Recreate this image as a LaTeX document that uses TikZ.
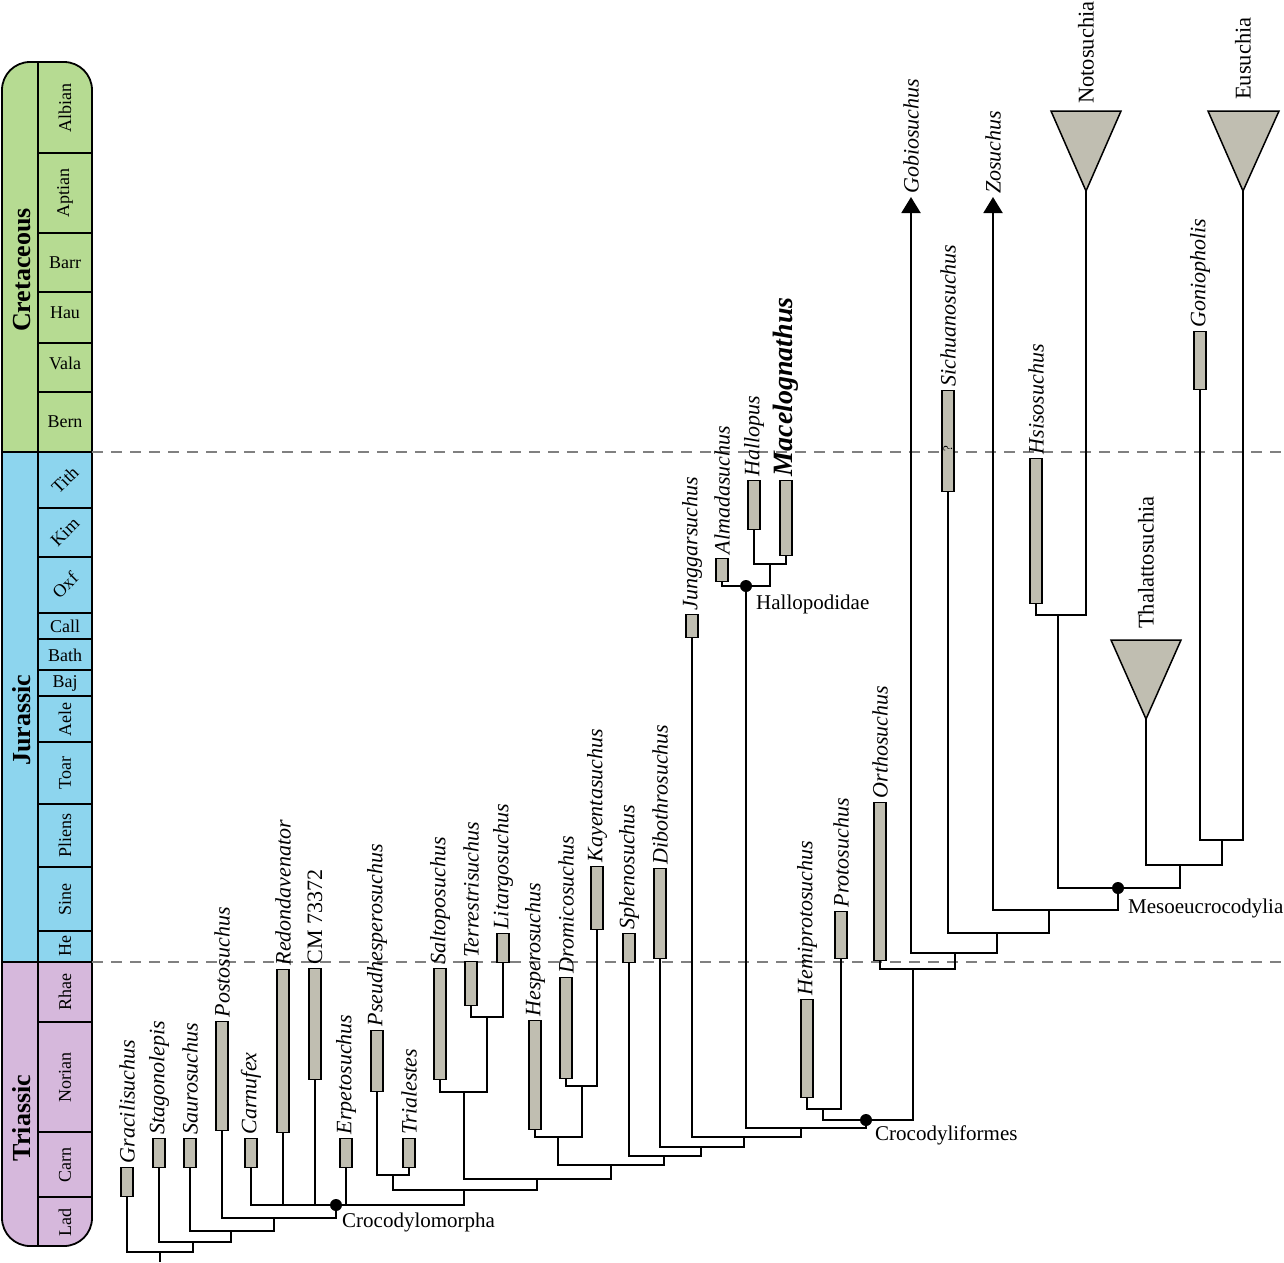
\documentclass[tikz,border=0pt]{standalone}
\usepackage{fontspec}
\setmainfont{Liberation Serif}
\usepackage{tikz}
\usetikzlibrary{arrows.meta}

\definecolor{cretgreen}{RGB}{182,219,146}
\definecolor{jurblue}{RGB}{141,213,238}
\definecolor{triapink}{RGB}{214,184,220}
\definecolor{barfill}{RGB}{192,190,177}

\begin{document}
\begin{tikzpicture}[x=1pt, y=-1pt,
	branchline/.style={line width=2pt},
	rangebar/.style={draw, line width=1.5pt, fill=barfill, minimum width=12pt, inner sep=0pt, anchor=south},
	taxon/.style={rotate=90, anchor=west, inner sep=3pt, font=\fontsize{22}{24}\selectfont\itshape},
	clade/.style={rotate=90, anchor=west, inner sep=0pt, font=\fontsize{22.5}{24}\selectfont},
	cladetri/.style={draw, line width=1.5pt, fill=barfill},
	cladename/.style={anchor=base west, inner sep=0pt, font=\fontsize{21}{24}\selectfont},
	nodedot/.style={circle, fill=black, minimum size=12pt, inner sep=0pt},
	boundary/.style={line width=1.8pt, color=black!50, dash pattern=on 11pt off 8pt},
	scaleline/.style={line width=1.8pt},
	stagename/.style={inner sep=0pt, font=\fontsize{18}{20}\selectfont},
	periodname/.style={rotate=90, inner sep=0pt, font=\fontsize{26}{28}\selectfont\bfseries},
	gobarrow/.style={{Triangle[width=19pt,length=16pt]}-}]

		\useasboundingbox (0,0) rectangle (1284,1262);

		% time scale
		\begin{scope}
			\clip [rounded corners=28pt] (2,62) rectangle (92,1246);
			\fill [cretgreen] (2,62) rectangle (92,452);
			\fill [jurblue] (2,452) rectangle (92,962);
			\fill [triapink] (2,962) rectangle (92,1246);
		\end{scope}
		\draw [scaleline, rounded corners=28pt] (2,62) rectangle (92,1246);
		\draw [scaleline] (38,62) -- (38,1246);
		\draw [scaleline] (2,452) -- (92,452);
		\draw [scaleline] (2,962) -- (92,962);
		\foreach \y in {153,233,292,343,392,508,557,613,639,670,696,742,804,867,931,1022,1132,1197}
			\draw [scaleline] (38,\y) -- (92,\y);

		\node [periodname] (cretaceous) at (22,270) {Cretaceous};
		\node [periodname] (jurassic) at (22,720) {Jurassic};
		\node [periodname] (triassic) at (22,1118) {Triassic};

		\node [stagename, rotate=90] (albian) at (65,108) {Albian};
		\node [stagename, rotate=90] (aptian) at (65,193) {Aptian};
		\node [stagename] (barr) at (65,263) {Barr};
		\node [stagename] (hau) at (65,313) {Hau};
		\node [stagename] (vala) at (65,363) {Vala};
		\node [stagename] (bern) at (65,422) {Bern};
		\node [stagename, rotate=45] (tith) at (65,480) {Tith};
		\node [stagename, rotate=45] (kim) at (65,532) {Kim};
		\node [stagename, rotate=45] (oxf) at (65,585) {Oxf};
		\node [stagename] (call) at (65,626) {Call};
		\node [stagename] (bath) at (65,655) {Bath};
		\node [stagename] (baj) at (65,683) {Baj};
		\node [stagename, rotate=90] (aele) at (65,719) {Aele};
		\node [stagename, rotate=90] (toar) at (65,773) {Toar};
		\node [stagename, rotate=90] (pliens) at (65,835) {Pliens};
		\node [stagename, rotate=90] (sine) at (65,899) {Sine};
		\node [stagename, rotate=90] (he) at (65,946) {He};
		\node [stagename, rotate=90] (rhae) at (65,992) {Rhae};
		\node [stagename, rotate=90] (norian) at (65,1077) {Norian};
		\node [stagename, rotate=90] (carn) at (65,1165) {Carn};
		\node [stagename, rotate=90] (lad) at (65,1222) {Lad};

		\draw [boundary] (92,452) -- (1284,452);
		\draw [boundary] (92,962) -- (1284,962);

		% inner nodes
		\coordinate (root) at (160,1262);
		\coordinate (n1) at (160,1252);
		\coordinate (n2) at (193,1242);
		\coordinate (n3) at (231,1231);
		\coordinate (n4) at (274,1218);
		\coordinate (cmorph) at (336,1205);
		\coordinate (nA) at (464,1190);
		\coordinate (nP) at (393,1175);
		\coordinate (nB) at (537,1179);
		\coordinate (nS) at (464,1092);
		\coordinate (nTL) at (487,1017);
		\coordinate (nC) at (611,1165);
		\coordinate (nH) at (558,1137);
		\coordinate (nDK) at (582,1086);
		\coordinate (nD) at (664,1156);
		\coordinate (nE) at (701,1147);
		\coordinate (nF) at (744,1137);
		\coordinate (nG) at (801,1128);
		\coordinate (hallop) at (746,586);
		\coordinate (nHM) at (770,564);
		\coordinate (cform) at (866,1120);
		\coordinate (nHP) at (823,1109);
		\coordinate (nO) at (913,969);
		\coordinate (nQ) at (955,953);
		\coordinate (nR) at (997,933);
		\coordinate (nT) at (1049,910);
		\coordinate (meso) at (1118,888);
		\coordinate (nU) at (1058,615);
		\coordinate (nV) at (1180,865);
		\coordinate (nW) at (1222,840);
		\coordinate (gobtip) at (911,197);
		\coordinate (zostip) at (993,197);

		% branches
		\draw [branchline] (root) -- (n1);
		\draw [branchline] (n2) |- (n1);
		\draw [branchline] (n3) |- (n2);
		\draw [branchline] (n4) |- (n3);
		\draw [branchline] (cmorph) |- (n4);
		\draw [branchline] (nA) |- (cmorph);
		\draw [branchline] (nP) |- (nA);
		\draw [branchline] (nB) |- (nA);
		\draw [branchline] (nS) |- (nB);
		\draw [branchline] (nTL) |- (nS);
		\draw [branchline] (nC) |- (nB);
		\draw [branchline] (nH) |- (nC);
		\draw [branchline] (nDK) |- (nH);
		\draw [branchline] (nD) |- (nC);
		\draw [branchline] (nE) |- (nD);
		\draw [branchline] (nF) |- (nE);
		\draw [branchline] (nG) |- (nF);
		\draw [branchline] (hallop) |- (nG);
		\draw [branchline] (nHM) |- (hallop);
		\draw [branchline] (cform) |- (nG);
		\draw [branchline] (nHP) |- (cform);
		\draw [branchline] (nO) |- (cform);
		\draw [branchline] (nQ) |- (nO);
		\draw [branchline, gobarrow] (gobtip) |- (nQ);
		\draw [branchline] (nR) |- (nQ);
		\draw [branchline] (nT) |- (nR);
		\draw [branchline, gobarrow] (zostip) |- (nT);
		\draw [branchline] (meso) |- (nT);
		\draw [branchline] (nU) |- (meso);
		\draw [branchline] (nV) |- (meso);
		\draw [branchline] (nW) |- (nV);

		% clade triangles
		\draw [cladetri] (1051,111) -- (1121,111) -- (1086,191) coordinate (noto) -- cycle;
		\draw [cladetri] (1208,111) -- (1279,111) -- (1243,191) coordinate (eusu) -- cycle;
		\draw [cladetri] (1111,640) -- (1181,640) -- (1146,719) coordinate (thal) -- cycle;
		\draw [branchline] (noto) |- (nU);
		\draw [branchline] (eusu) |- (nW);
		\draw [branchline] (thal) |- (nV);

		% taxa
		\node [rangebar, minimum height=29] (graci) at (127,1197) {};
		\node [rangebar, minimum height=29] (stag) at (159,1168) {};
		\node [rangebar, minimum height=29] (sauro) at (190,1168) {};
		\node [rangebar, minimum height=109] (posto) at (222,1131) {};
		\node [rangebar, minimum height=29] (carnu) at (251,1168) {};
		\node [rangebar, minimum height=163] (redo) at (283,1133) {};
		\node [rangebar, minimum height=111] (cmsp) at (315,1080) {};
		\node [rangebar, minimum height=29] (erpe) at (346,1168) {};
		\node [rangebar, minimum height=61] (pseu) at (377,1092) {};
		\node [rangebar, minimum height=29] (tria) at (409,1168) {};
		\node [rangebar, minimum height=111] (salt) at (440,1080) {};
		\node [rangebar, minimum height=44] (terr) at (471,1006) {};
		\node [rangebar, minimum height=29] (lita) at (503,963) {};
		\node [rangebar, minimum height=109] (hesp) at (535,1130) {};
		\node [rangebar, minimum height=101] (drom) at (566,1079) {};
		\node [rangebar, minimum height=63] (kaye) at (597,930) {};
		\node [rangebar, minimum height=29] (sphe) at (629,963) {};
		\node [rangebar, minimum height=90] (dibo) at (660,959) {};
		\node [rangebar, minimum height=23] (jung) at (692,638) {};
		\node [rangebar, minimum height=23] (alma) at (722,582) {};
		\node [rangebar, minimum height=49] (hallo) at (754,530) {};
		\node [rangebar, minimum height=75] (mace) at (786,556) {};
		\node [rangebar, minimum height=98] (hemi) at (807,1098) {};
		\node [rangebar, minimum height=47] (prot) at (841,959) {};
		\node [rangebar, minimum height=158] (orth) at (880,961) {};
		\node [rangebar, minimum height=101] (sich) at (948,492) {};
		\node [rangebar, minimum height=145] (hsis) at (1036,604) {};
		\node [rangebar, minimum height=58] (goni) at (1200,390) {};
		\node [rotate=90, inner sep=0pt, font=\fontsize{13}{14}\selectfont] (sichq) at (948,449) {?};

		\draw [branchline] (graci.south) |- (n1);
		\draw [branchline] (stag.south) |- (n2);
		\draw [branchline] (sauro.south) |- (n3);
		\draw [branchline] (posto.south) |- (n4);
		\draw [branchline] (carnu.south) |- (cmorph);
		\draw [branchline] (redo.south) |- (cmorph);
		\draw [branchline] (cmsp.south) |- (cmorph);
		\draw [branchline] (erpe.south) |- (cmorph);
		\draw [branchline] (pseu.south) |- (nP);
		\draw [branchline] (tria.south) |- (nP);
		\draw [branchline] (salt.south) |- (nS);
		\draw [branchline] (terr.south) |- (nTL);
		\draw [branchline] (lita.south) |- (nTL);
		\draw [branchline] (hesp.south) |- (nH);
		\draw [branchline] (drom.south) |- (nDK);
		\draw [branchline] (kaye.south) |- (nDK);
		\draw [branchline] (sphe.south) |- (nD);
		\draw [branchline] (dibo.south) |- (nE);
		\draw [branchline] (jung.south) |- (nF);
		\draw [branchline] (alma.south) |- (hallop);
		\draw [branchline] (hallo.south) |- (nHM);
		\draw [branchline] (mace.south) |- (nHM);
		\draw [branchline] (hemi.south) |- (nHP);
		\draw [branchline] (prot.south) |- (nHP);
		\draw [branchline] (orth.south) |- (nO);
		\draw [branchline] (sich.south) |- (nR);
		\draw [branchline] (hsis.south) |- (nU);
		\draw [branchline] (goni.south) |- (nW);

		\node [nodedot] (cmorphdot) at (cmorph) {};
		\node [nodedot] (hallopdot) at (hallop) {};
		\node [nodedot] (cformdot) at (cform) {};
		\node [nodedot] (mesodot) at (meso) {};

		% labels
		\node [taxon] (gracilab) at (graci.north) {Gracilisuchus};
		\node [taxon] (staglab) at (stag.north) {Stagonolepis};
		\node [taxon] (saurolab) at (sauro.north) {Saurosuchus};
		\node [taxon] (postolab) at (posto.north) {Postosuchus};
		\node [taxon] (carnulab) at (carnu.north) {Carnufex};
		\node [taxon] (redolab) at (redo.north) {Redondavenator};
		\node [taxon, font=\fontsize{22}{24}\selectfont] (cmsplab) at (cmsp.north) {CM 73372};
		\node [taxon] (erpelab) at (erpe.north) {Erpetosuchus};
		\node [taxon] (pseulab) at (pseu.north) {Pseudhesperosuchus};
		\node [taxon] (trialab) at (tria.north) {Trialestes};
		\node [taxon] (saltlab) at (salt.north) {Saltoposuchus};
		\node [taxon] (terrlab) at (terr.north) {Terrestrisuchus};
		\node [taxon] (litalab) at (lita.north) {Litargosuchus};
		\node [taxon] (hesplab) at (hesp.north) {Hesperosuchus};
		\node [taxon] (dromlab) at (drom.north) {Dromicosuchus};
		\node [taxon] (kayelab) at (kaye.north) {Kayentasuchus};
		\node [taxon] (sphelab) at (sphe.north) {Sphenosuchus};
		\node [taxon] (dibolab) at (dibo.north) {Dibothrosuchus};
		\node [taxon] (junglab) at (jung.north) {Junggarsuchus};
		\node [taxon] (almalab) at (alma.north) {Almadasuchus};
		\node [taxon] (hallolab) at (hallo.north) {Hallopus};
		\node [taxon, font=\fontsize{28}{30}\selectfont\bfseries\itshape] (macelab) at (mace.north) {Macelognathus};
		\node [taxon] (hemilab) at (hemi.north) {Hemiprotosuchus};
		\node [taxon] (protlab) at (prot.north) {Protosuchus};
		\node [taxon] (orthlab) at (orth.north) {Orthosuchus};
		\node [taxon] (goblab) at (gobtip) {Gobiosuchus};
		\node [taxon] (sichlab) at (sich.north) {Sichuanosuchus};
		\node [taxon] (zoslab) at (zostip) {Zosuchus};
		\node [taxon] (hsislab) at (hsis.north) {Hsisosuchus};
		\node [taxon] (gonilab) at (goni.north) {Goniopholis};

		\node [clade] (notolab) at (1086,104) {Notosuchia};
		\node [clade] (eusulab) at (1243,100) {Eusuchia};
		\node [clade] (thallab) at (1146,629) {Thalattosuchia};

		\node [cladename] (cmorphlab) at (342,1227) {Crocodylomorpha};
		\node [cladename] (hallolab2) at (756,609) {Hallopodidae};
		\node [cladename] (cformlab) at (875,1140) {Crocodyliformes};
		\node [cladename] (mesolab) at (1128,913) {Mesoeucrocodylia};

	\end{tikzpicture}
\end{document}
